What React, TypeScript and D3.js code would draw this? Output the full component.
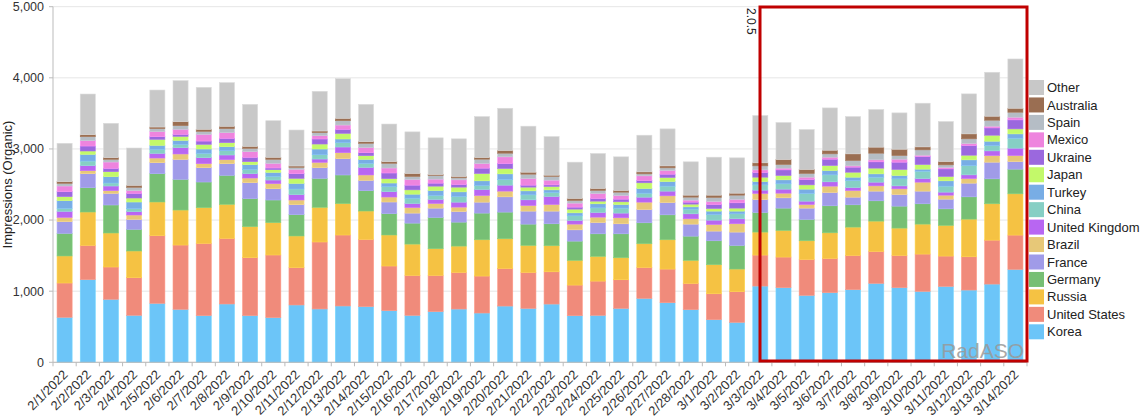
import React from "react";
import * as d3 from "d3";

const dates = [
  "2/1/2022","2/2/2022","2/3/2022","2/4/2022","2/5/2022","2/6/2022","2/7/2022","2/8/2022","2/9/2022","2/10/2022",
  "2/11/2022","2/12/2022","2/13/2022","2/14/2022","2/15/2022","2/16/2022","2/17/2022","2/18/2022","2/19/2022","2/20/2022",
  "2/21/2022","2/22/2022","2/23/2022","2/24/2022","2/25/2022","2/26/2022","2/27/2022","2/28/2022","3/1/2022","3/2/2022",
  "3/3/2022","3/4/2022","3/5/2022","3/6/2022","3/7/2022","3/8/2022","3/9/2022","3/10/2022","3/11/2022","3/12/2022",
  "3/13/2022","3/14/2022",
];

const korea = [633,1162,886,661,829,745,656,820,656,628,806,750,792,783,726,660,712,749,693,791,758,819,655,660,758,899,838,740,599,562,1072,1049,941,979,1021,1110,1049,997,1067,1016,1100,1306];
const unitedStates = [482,483,454,529,952,904,1017,923,815,881,525,942,998,946,628,562,510,515,520,529,506,454,431,482,403,435,473,370,365,431,436,431,506,482,482,449,454,525,427,468,618,483];
const russia = [380,468,478,375,473,492,501,478,436,454,445,487,441,398,436,440,375,370,510,417,379,366,347,347,309,333,412,323,408,318,323,374,262,360,398,426,384,421,430,529,511,580];
const germany = [318,342,394,305,398,432,361,408,394,319,300,408,403,286,300,295,440,337,375,375,300,309,271,318,337,295,351,341,337,332,276,314,300,380,314,286,309,286,234,314,351,347];
const france = [165,197,164,140,155,281,202,164,225,159,140,150,229,146,164,141,131,150,154,215,183,178,159,159,141,187,173,169,136,188,182,145,159,187,107,136,164,178,136,192,234,107];
const brazil = [60,42,37,61,65,75,56,56,65,71,66,75,84,75,70,79,65,61,94,80,79,93,80,75,84,103,94,75,93,117,85,65,51,89,94,74,79,126,56,65,93,84];
const unitedKingdom = [85,71,66,47,66,89,84,66,61,51,75,46,80,107,75,56,57,70,84,84,80,113,52,66,66,70,66,70,61,70,47,57,47,61,42,52,42,51,43,52,66,104];
const china = [42,65,42,42,56,47,61,61,61,52,80,61,61,57,71,75,56,80,56,79,70,56,65,65,70,56,70,66,80,70,74,75,108,98,98,70,99,103,84,131,75,140];
const turkey = [108,94,89,94,57,56,61,56,66,56,79,80,52,56,51,56,70,65,66,80,56,37,42,57,51,66,65,32,47,38,47,56,61,61,47,47,47,29,75,80,61,61];
const japan = [56,47,70,56,84,56,66,56,42,37,71,70,79,51,61,61,61,66,103,75,52,47,52,37,38,80,57,38,37,42,61,61,60,70,70,80,84,65,61,65,84,70];
const ukraine = [70,70,47,66,37,28,46,61,61,24,65,71,57,42,80,66,42,37,75,70,28,23,28,38,37,32,46,28,56,75,66,79,75,89,71,89,103,112,107,136,103,127];
const mexico = [80,75,89,37,71,71,94,80,80,66,61,46,60,71,70,79,56,66,65,94,93,66,56,70,52,66,52,28,42,47,37,24,33,28,18,28,42,19,19,28,24,37];
const spain = [37,56,38,47,42,51,42,56,46,56,28,43,61,61,66,43,52,28,61,51,61,52,37,42,46,28,37,42,57,60,56,51,52,47,75,93,51,75,37,66,84,70];
const australia = [24,28,23,28,23,56,29,33,28,28,19,23,33,23,23,42,14,19,23,38,28,18,29,28,24,28,28,28,32,28,43,70,56,51,94,85,89,42,47,70,56,56];
const other = [539,572,483,525,520,577,590,614,591,515,506,558,558,525,529,585,515,529,576,594,647,543,510,492,473,515,520,469,534,497,664,520,562,595,524,529,511,614,562,562,618,693];

const seriesNames = ["Korea","United States","Russia","Germany","France","Brazil","United Kingdom","China","Turkey","Japan","Ukraine","Mexico","Spain","Australia","Other"];
const seriesValues = [korea, unitedStates, russia, germany, france, brazil, unitedKingdom, china, turkey, japan, ukraine, mexico, spain, australia, other];
const seriesColors = ["#6CC5F8","#F08B7B","#F5C243","#77BF74","#A09BE8","#E7C878","#B866F2","#86CFC4","#78ADE5","#C3F96A","#9B68DE","#EE84DE","#B5BDC5","#9A6E52","#C8C8C8"];

const yTicks = [0, 1000, 2000, 3000, 4000, 5000];
const versionLabel = "2.0.5";
const watermark = "RadASO";
const yTitle = "Impressions (Organic)";

const FONT = "'Liberation Sans', Arial, Helvetica, sans-serif";

export default function App() {
  const left = 53, right = 1027, top = 6.7, bottom = 362.3;
  const rows = dates.map((d, i) => {
    const r: any = { date: d };
    seriesNames.forEach((n, k) => (r[n] = seriesValues[k][i]));
    return r;
  });
  const stacked = d3.stack<any>().keys(seriesNames)(rows);
  const x = d3.scaleBand<string>().domain(dates).range([left, right]).paddingInner(0.35).paddingOuter(0.175);
  const y = d3.scaleLinear().domain([0, 5000]).range([bottom, top]);
  const fmt = d3.format(",");
  const step = x.step();

  return (
    <svg width={1147} height={420} style={{ position: "absolute", left: 0, top: 0, background: "#fff" }} fontFamily={FONT}>
      {yTicks.map((t) => (
        <line key={"g" + t} x1={left} x2={right} y1={y(t)} y2={y(t)} stroke="#e6e6e6" strokeWidth={1} />
      ))}
      {stacked.map((s, k) => (
        <g key={seriesNames[k]}>
          {s.map((seg, i) => (
            <rect
              key={i}
              x={x(dates[i])}
              width={x.bandwidth()}
              y={y(seg[1])}
              height={y(seg[0]) - y(seg[1])}
              fill={seriesColors[k]}
              stroke={d3.color(seriesColors[k])!.brighter(0.25).formatHex()}
              strokeWidth={0.6}
            />
          ))}
        </g>
      ))}
      <line x1={left} x2={left} y1={top} y2={bottom} stroke="#bbb" />
      {yTicks.map((t) => (
        <g key={"t" + t}>
          <line x1={left - 4} x2={left} y1={y(t)} y2={y(t)} stroke="#bbb" />
          <text x={44} y={y(t)} dy="0.35em" textAnchor="end" fontSize={12.5} fill="#333">
            {fmt(t)}
          </text>
        </g>
      ))}
      <text transform={`translate(12,${(top + bottom) / 2}) rotate(-90)`} textAnchor="middle" fontSize={13} fill="#222">
        {yTitle}
      </text>
      <line x1={left} x2={right} y1={bottom} y2={bottom} stroke="#bbb" />
      {dates.map((d, i) => (
        <line key={"xt" + i} x1={left + step * i} x2={left + step * i} y1={bottom} y2={bottom + 4} stroke="#bbb" />
      ))}
      <line x1={right} x2={right} y1={bottom} y2={bottom + 4} stroke="#bbb" />
      {dates.map((d) => {
        const cx = x(d)! + x.bandwidth() / 2;
        return (
          <text key={"xl" + d} transform={`translate(${cx + 4},${bottom + 13}) rotate(-45)`} textAnchor="end" fontSize={13} fill="#333">
            {d}
          </text>
        );
      })}
      <rect x={760} y={7} width={right - 760} height={354} fill="none" stroke="#C00000" strokeWidth={3} />
      <text transform={`translate(747,8) rotate(90)`} fontSize={12} fill="#222">{versionLabel}</text>
      <text x={1024} y={358} textAnchor="end" fontSize={21} fill="#999" fillOpacity={0.85}>{watermark}</text>
      {seriesNames.slice().reverse().map((n, j) => {
        const k = seriesNames.length - 1 - j;
        const yy = 80 + j * 17.45;
        return (
          <g key={"lg" + n}>
            <rect x={1029} y={yy} width={15} height={15} fill={seriesColors[k]} />
            <text x={1047} y={yy + 7.5} dy="0.35em" fontSize={13} fill="#222">{n}</text>
          </g>
        );
      })}
    </svg>
  );
}
